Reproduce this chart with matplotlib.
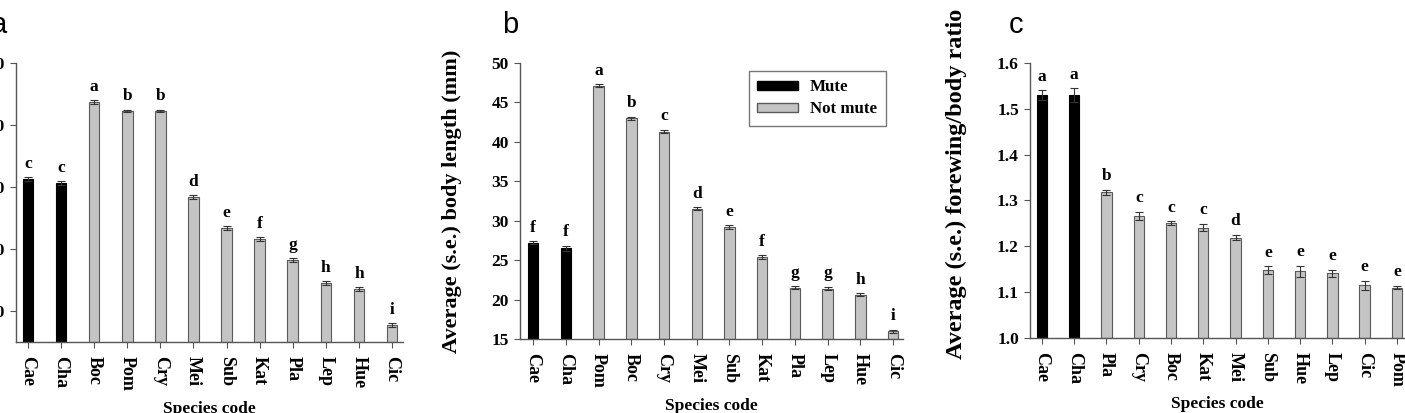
import matplotlib
matplotlib.use("Agg")
import matplotlib.pyplot as plt
from matplotlib.patches import Patch

# Panel a: forewing length (mm)
species_a = ['Cae', 'Cha', 'Boc', 'Pom', 'Cry', 'Mei', 'Sub', 'Kat', 'Pla', 'Lep', 'Hue', 'Cic']
values_a = [41.3, 40.6, 53.7, 52.3, 52.3, 38.4, 33.4, 31.6, 28.2, 24.5, 23.5, 17.7]
se_a = [0.3, 0.3, 0.3, 0.2, 0.2, 0.3, 0.3, 0.3, 0.3, 0.3, 0.3, 0.3]
letters_a = ['c', 'c', 'a', 'b', 'b', 'd', 'e', 'f', 'g', 'h', 'h', 'i']

# Panel b: body length (mm)
species_b = ['Cae', 'Cha', 'Pom', 'Boc', 'Cry', 'Mei', 'Sub', 'Kat', 'Pla', 'Lep', 'Hue', 'Cic']
values_b = [27.2, 26.5, 47.1, 43.0, 41.3, 31.5, 29.2, 25.4, 21.5, 21.4, 20.6, 16.0]
se_b = [0.2, 0.3, 0.2, 0.2, 0.2, 0.2, 0.2, 0.2, 0.2, 0.2, 0.2, 0.2]
letters_b = ['f', 'f', 'a', 'b', 'c', 'd', 'e', 'f', 'g', 'g', 'h', 'i']

# Panel c: forewing/body ratio
species_c = ['Cae', 'Cha', 'Pla', 'Cry', 'Boc', 'Kat', 'Mei', 'Sub', 'Hue', 'Lep', 'Cic', 'Pom']
values_c = [1.530, 1.530, 1.318, 1.266, 1.251, 1.241, 1.219, 1.148, 1.146, 1.141, 1.115, 1.110]
se_c = [0.010, 0.015, 0.005, 0.009, 0.004, 0.008, 0.006, 0.008, 0.012, 0.008, 0.010, 0.004]
letters_c = ['a', 'a', 'b', 'c', 'c', 'c', 'd', 'e', 'e', 'e', 'e', 'e']

mute = [True, True, False, False, False, False, False, False, False, False, False, False]

SERIF = 'Liberation Serif'
MUTE_COLOR = '#000000'
NOT_MUTE_COLOR = '#c4c4c4'
EDGE = '#5a5a5a'

fig = plt.figure(figsize=(14.05, 4.13), dpi=100)


def bar_panel(rect, species, values, se, letters, ylim, yticks, ytl, ylabel,
              xlim, ylabel_pos, ylabel_size):
    ax = fig.add_axes(rect)
    x = list(range(len(species)))
    colors = [MUTE_COLOR if m else NOT_MUTE_COLOR for m in mute]
    edges = [MUTE_COLOR if m else EDGE for m in mute]
    ax.bar(x, [v - ylim[0] for v in values], bottom=ylim[0], width=0.32,
           color=colors, edgecolor=edges, linewidth=0.8, zorder=2)
    ax.errorbar(x, values, yerr=se, fmt='none', ecolor='#333333',
                elinewidth=0.8, capsize=3, capthick=0.8, zorder=3)
    # significance letters above each bar
    for xi, v, s, lt in zip(x, values, se, letters):
        ax.annotate(lt, (xi, v + s), xytext=(0, 4), textcoords='offset points',
                    ha='center', va='bottom', fontsize=12.5, fontweight='bold',
                    family=SERIF)
    ax.set_ylim(ylim)
    ax.set_xlim(xlim)
    ax.set_yticks(yticks)
    ax.set_yticklabels(ytl, fontsize=12.5, fontweight='bold', family=SERIF)
    ax.set_xticks(x)
    ax.set_xticklabels(species, rotation=270, fontsize=13, fontweight='bold',
                       family=SERIF, va='top', ha='center')
    for side in ['top', 'right']:
        ax.spines[side].set_visible(False)
    for side in ['left', 'bottom']:
        ax.spines[side].set_color('#555555')
        ax.spines[side].set_linewidth(1.0)
    ax.tick_params(axis='both', direction='out', length=4, width=0.8,
                   color='#555555', pad=4)
    ax.tick_params(axis='x', pad=6)
    ax.set_xlabel('Species code', fontsize=12.5, fontweight='bold', family=SERIF)
    ax.xaxis.set_label_coords(0.5, -0.212)
    ax.set_ylabel(ylabel, fontsize=ylabel_size, fontweight='bold', family=SERIF)
    ax.yaxis.set_label_coords(*ylabel_pos)
    return ax


ax_a = bar_panel([0.0114, 0.1719, 0.2754, 0.6755], species_a, values_a, se_a,
                 letters_a, (15, 60), [20, 30, 40, 50, 60],
                 ['20', '30', '40', '50', '60'],
                 'Average (s.e.) forewing length (mm)', (-0.36, 11.33),
                 (-0.2, 0.5), 16)

ax_b = bar_panel([0.3701, 0.1792, 0.2726, 0.6683], species_b, values_b, se_b,
                 letters_b, (15, 50), [15, 20, 25, 30, 35, 40, 45, 50],
                 ['15', '20', '25', '30', '35', '40', '45', '50'],
                 'Average (s.e.) body length (mm)', (-0.4, 11.3),
                 (-0.151, 0.5), 16)

ax_c = bar_panel([0.7331, 0.1816, 0.2669, 0.6659], species_c, values_c, se_c,
                 letters_c, (1.0, 1.6), [1.0, 1.1, 1.2, 1.3, 1.4, 1.5, 1.6],
                 ['1.0', '1.1', '1.2', '1.3', '1.4', '1.5', '1.6'],
                 'Average (s.e.) forewing/body ratio', (-0.37, 11.25),
                 (-0.168, 0.56), 17.5)

handles = [Patch(facecolor=MUTE_COLOR, edgecolor=MUTE_COLOR, label='Mute'),
           Patch(facecolor=NOT_MUTE_COLOR, edgecolor=EDGE, label='Not mute')]
leg = ax_b.legend(handles=handles, loc='upper left', bbox_to_anchor=(0.598, 0.971),
                  borderaxespad=0, frameon=True, fancybox=False,
                  edgecolor='#555555', handlelength=2.4, handleheight=0.45,
                  borderpad=0.5, labelspacing=0.35, handletextpad=0.7,
                  prop={'family': SERIF, 'weight': 'bold', 'size': 12.2})
leg.get_frame().set_linewidth(1.0)

# panel letters
fig.text(-9 / 1405, 1 - 33 / 413, 'a', fontsize=21, family='Liberation Sans')
fig.text(502 / 1405, 1 - 33 / 413, 'b', fontsize=21, family='Liberation Sans')
fig.text(1009 / 1405, 1 - 33 / 413, 'c', fontsize=21, family='Liberation Sans')

fig.savefig('out.png', dpi=100)
